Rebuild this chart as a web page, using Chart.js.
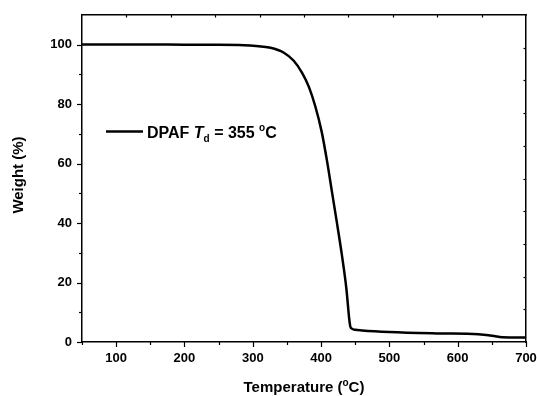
<!DOCTYPE html>
<html>
<head>
<meta charset="utf-8">
<script src="https://cdn.jsdelivr.net/npm/chart.js@4/dist/chart.umd.min.js"></script>
<style>
  body { margin: 0; background: #fff; }
  canvas { display: block; }
</style>
</head>
<body>
<canvas id="tgaChart" width="537" height="396"></canvas>
<script>
// TGA curve
const temperatures = [50, 100, 150, 200, 250, 280, 296, 312, 326, 345, 360, 372, 382, 391.5,
  401, 409, 416, 423, 430.5, 437, 441.3, 442.8, 445, 450, 460, 500, 570, 630, 645, 655, 665, 700]
const weights = [100.1, 100.1, 100.1, 100.0, 100.0, 99.9, 99.7, 99.4, 99.0, 97.4, 94.6, 90.6,
  85.9, 79.3, 70.6, 60.5, 50.4, 40.4, 29.2, 18.0, 7.6, 5.2, 4.5, 4.1, 3.9, 3.4, 2.9, 2.6,
  2.3, 1.9, 1.6, 1.5]

const xTickLabels = [100, 200, 300, 400, 500, 600, 700]
const xMinorTicks = [50, 150, 250, 350, 450, 550, 650]
const yTickLabels = [0, 20, 40, 60, 80, 100]
const yMinorTicks = [10, 30, 50, 70, 90]
const frameTicks = [1, 2, 3, 4, 5, 6, 7, 8, 9]

const FONT = '"Liberation Sans", Arial, sans-serif'

function drawRich(ctx, parts, x, y, align) {
  let total = 0
  parts.forEach(p => {
    ctx.font = `${p.italic ? 'italic ' : ''}bold ${p.size}px ${FONT}`
    p.w = ctx.measureText(p.t).width
    total += p.w
  })
  let cx = align === 'center' ? x - total / 2 : x
  ctx.textAlign = 'left'
  ctx.textBaseline = 'alphabetic'
  parts.forEach(p => {
    ctx.font = `${p.italic ? 'italic ' : ''}bold ${p.size}px ${FONT}`
    ctx.fillText(p.t, cx, y + (p.dy || 0))
    cx += p.w
  })
}

const decorPlugin = {
  id: 'decor',
  afterDraw(chart) {
    const { ctx, chartArea: a, scales } = chart
    ctx.save()
    ctx.strokeStyle = '#000'
    ctx.fillStyle = '#000'
    ctx.lineWidth = 1.2

    const tick = (x1, y1, x2, y2) => {
      ctx.beginPath()
      ctx.moveTo(x1, y1)
      ctx.lineTo(x2, y2)
      ctx.stroke()
    }
    // outward ticks on bottom and left
    xTickLabels.forEach(v => {
      const px = Math.round(scales.x.getPixelForValue(v)) + 0.5
      tick(px, a.bottom, px, a.bottom + 5)
    })
    xMinorTicks.forEach(v => {
      const px = Math.round(scales.x.getPixelForValue(v)) + 0.5
      tick(px, a.bottom, px, a.bottom + 3)
    })
    yTickLabels.forEach(v => {
      const py = Math.round(scales.y.getPixelForValue(v)) + 0.5
      tick(a.left, py, a.left - 5, py)
    })
    yMinorTicks.forEach(v => {
      const py = Math.round(scales.y.getPixelForValue(v)) + 0.5
      tick(a.left, py, a.left - 3, py)
    })
    // small inward ticks on top and right
    frameTicks.forEach(v => {
      const px = Math.round(scales.x2.getPixelForValue(v)) + 0.5
      tick(px, a.top, px, a.top + 2.5)
      const py = Math.round(scales.y2.getPixelForValue(v)) + 0.5
      tick(a.right, py, a.right - 2.5, py)
    })

    // axis titles
    drawRich(ctx, [
      { t: 'Temperature (', size: 15 },
      { t: 'o', size: 10, dy: -6 },
      { t: 'C)', size: 15 }
    ], (a.left + a.right) / 2, 391.5, 'center')

    ctx.save()
    ctx.translate(22.5, 175)
    ctx.rotate(-Math.PI / 2)
    drawRich(ctx, [{ t: 'Weight (%)', size: 15 }], 0, 0, 'center')
    ctx.restore()

    // legend
    ctx.lineWidth = 2.5
    tick(106, 131.5, 143, 131.5)
    drawRich(ctx, [
      { t: 'DPAF ', size: 16 },
      { t: 'T', size: 16, italic: true },
      { t: 'd', size: 10, dy: 4 },
      { t: ' = 355 ', size: 16 },
      { t: 'o', size: 10, dy: -7 },
      { t: 'C', size: 16 }
    ], 147, 138, 'left')

    ctx.restore()
  }
}

const tickFont = { family: FONT, size: 13, weight: 'bold' }
const border = { display: true, color: '#000', width: 1.5 }

new Chart(document.getElementById('tgaChart'), {
  type: 'line',
  data: {
    datasets: [{
      data: temperatures.map((t, i) => ({ x: t, y: weights[i] })),
      borderColor: '#000',
      borderWidth: 2.5,
      pointRadius: 0,
      fill: false,
      cubicInterpolationMode: 'monotone',
      xAxisID: 'x',
      yAxisID: 'y'
    }]
  },
  options: {
    responsive: false,
    animation: false,
    layout: { padding: 0 },
    plugins: { legend: { display: false }, tooltip: { enabled: false } },
    scales: {
      x: {
        type: 'linear',
        position: 'bottom',
        min: 50,
        max: 700,
        afterBuildTicks: s => { s.ticks = xTickLabels.map(v => ({ value: v })) },
        afterFit: s => { s.height = 54; s.paddingLeft = 0; s.paddingRight = 0 },
        grid: { display: false, drawTicks: false },
        border,
        ticks: { font: tickFont, color: '#000', padding: 9, maxRotation: 0, autoSkip: false }
      },
      y: {
        type: 'linear',
        position: 'left',
        min: 0,
        max: 110,
        afterBuildTicks: s => { s.ticks = yTickLabels.map(v => ({ value: v })) },
        afterFit: s => { s.width = 82; s.paddingTop = 0; s.paddingBottom = 0 },
        grid: { display: false, drawTicks: false },
        border,
        ticks: { font: tickFont, color: '#000', padding: 10, autoSkip: false }
      },
      x2: {
        type: 'linear',
        axis: 'x',
        position: 'top',
        min: 0,
        max: 10,
        afterFit: s => { s.height = 15; s.paddingLeft = 0; s.paddingRight = 0 },
        grid: { display: false, drawTicks: false },
        border,
        ticks: { display: false }
      },
      y2: {
        type: 'linear',
        axis: 'y',
        position: 'right',
        min: 0,
        max: 10,
        reverse: true,
        afterFit: s => { s.width = 11; s.paddingTop = 0; s.paddingBottom = 0 },
        grid: { display: false, drawTicks: false },
        border,
        ticks: { display: false }
      }
    }
  },
  plugins: [decorPlugin]
})
</script>
</body>
</html>
